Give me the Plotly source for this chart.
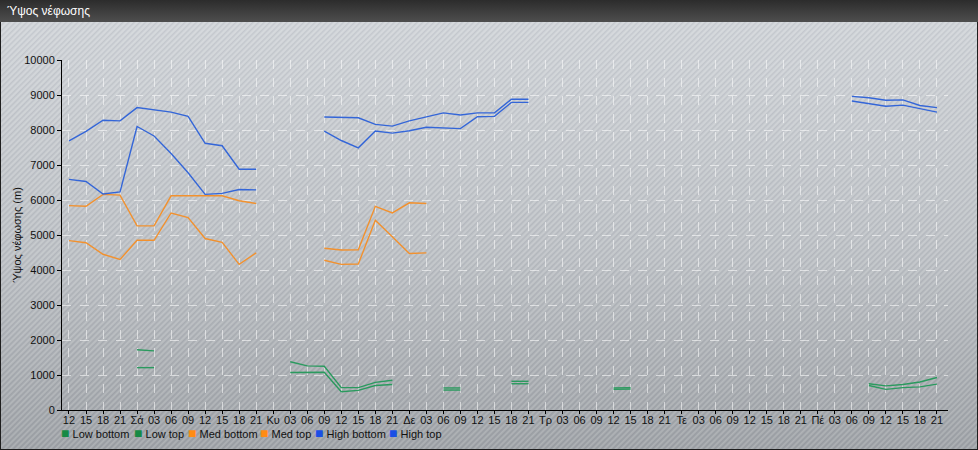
import base64
import plotly.graph_objects as go

# ---------------- data ----------------
tick_labels = ["12", "15", "18", "21",
               "Σά", "03", "06", "09", "12", "15", "18", "21",
               "Κυ", "03", "06", "09", "12", "15", "18", "21",
               "Δε", "03", "06", "09", "12", "15", "18", "21",
               "Τρ", "03", "06", "09", "12", "15", "18", "21",
               "Τε", "03", "06", "09", "12", "15", "18", "21",
               "Πέ", "03", "06", "09", "12", "15", "18", "21"]
x_idx = list(range(len(tick_labels)))

N = None
low_bottom = [N, N, N, N, 1210, 1210, N, N, N, N, N, N,
              N, 1070, 1080, 1080, 520, 560, 700, 730,
              N, N, 570, 570, N, N, 750, 750,
              N, N, N, N, 590, 600, N, N,
              N, N, N, N, N, N, N, N,
              N, N, N, 700, 590, 640, 660, 740]
low_top = [N, N, N, N, 1720, 1690, N, N, N, N, N, N,
           N, 1380, 1260, 1250, 640, 640, 790, 850,
           N, N, 630, 630, N, N, 820, 820,
           N, N, N, N, 630, 640, N, N,
           N, N, N, N, N, N, N, N,
           N, N, N, 750, 690, 730, 800, 930]
med_bottom = [4840, 4780, 4450, 4300, 4850, 4850, 5630, 5500, 4900, 4790, 4160, 4490,
              N, N, N, 4280, 4160, 4170, 5420, 4950,
              4470, 4490, N, N, N, N, N, N,
              N, N, N, N, N, N, N, N,
              N, N, N, N, N, N, N, N,
              N, N, N, N, N, N, N, N]
med_top = [5840, 5820, 6160, 6140, 5260, 5260, 6120, 6120, 6110, 6120, 5980, 5900,
           N, N, N, 4620, 4570, 4580, 5820, 5630,
           5920, 5900, N, N, N, N, N, N,
           N, N, N, N, N, N, N, N,
           N, N, N, N, N, N, N, N,
           N, N, N, N, N, N, N, N]
high_bottom = [6590, 6530, 6170, 6230, 8100, 7830, 7330, 6780, 6160, 6190, 6300, 6290,
               N, N, N, 7970, 7700, 7490, 7970, 7910,
               7980, 8080, 8060, 8040, 8380, 8390, 8790, 8790,
               N, N, N, N, N, N, N, N,
               N, N, N, N, N, N, N, N,
               N, N, 8830, 8750, 8680, 8710, 8600, 8510]
high_top = [7690, 7960, 8280, 8260, 8640, 8570, 8510, 8390, 7620, 7550, 6880, 6880,
            N, N, N, 8370, 8360, 8350, 8160, 8110,
            8260, 8370, 8490, 8430, 8490, 8490, 8880, 8880,
            N, N, N, N, N, N, N, N,
            N, N, N, N, N, N, N, N,
            N, N, 8960, 8920, 8850, 8860, 8700, 8640]

series_names = ["Low bottom", "Low top", "Med bottom", "Med top", "High bottom", "High top"]
series_values = [low_bottom, low_top, med_bottom, med_top, high_bottom, high_top]
line_colors = ["#2a9a5e", "#2a9a5e", "#f2912e", "#f2912e", "#3466d8", "#3466d8"]
legend_colors = ["#178a45", "#178a45", "#ff8c14", "#ff8c14", "#1a4fe6", "#1a4fe6"]
legend_px = [59, 132, 186, 258, 313, 387]   # left edge of each legend entry (px)

# ---------------- layout geometry ----------------
W, H = 978, 450
ML, MR, MT, MB = 62, 30, 60, 40
PW, PH = W - ML - MR, H - MT - MB

FONT = "Liberation Sans, Arial, sans-serif"

# background picture (title bar, gradient body, diagonal hatching)
svg = f'''<svg xmlns="http://www.w3.org/2000/svg" width="{W}" height="{H}" viewBox="0 0 {W} {H}">
<defs>
<linearGradient id="tb" x1="0" y1="0" x2="0" y2="1"><stop offset="0" stop-color="#2c2c2c"/><stop offset="1" stop-color="#4e4e4e"/></linearGradient>
<linearGradient id="bg" x1="0" y1="0" x2="0" y2="1"><stop offset="0" stop-color="#d0d4d8"/><stop offset="0.55" stop-color="#bcc0c4"/><stop offset="1" stop-color="#9ea2a6"/></linearGradient>
<pattern id="h" width="4" height="4" patternUnits="userSpaceOnUse" patternTransform="rotate(45)"><rect width="1.6" height="4" fill="rgba(255,255,255,0.16)"/><rect x="2" width="1.2" height="4" fill="rgba(60,70,90,0.08)"/></pattern>
</defs>
<rect width="{W}" height="{H}" fill="#1e1e1e"/>
<rect x="0" y="0" width="{W}" height="22" fill="url(#tb)"/>
<rect x="1" y="22" width="{W-2}" height="{H-23}" fill="url(#bg)"/>
<rect x="1" y="22" width="{W-2}" height="{H-23}" fill="url(#h)"/>
</svg>'''
bg_uri = "data:image/svg+xml;base64," + base64.b64encode(svg.encode("utf-8")).decode("ascii")

fig = go.Figure()

for name, vals, lc in zip(series_names, series_values, line_colors):
    fig.add_trace(go.Scatter(
        x=x_idx, y=vals, mode="lines", name=name,
        line=dict(color=lc, width=1.4), connectgaps=False,
        showlegend=False))

annotations = [dict(text="Ύψος νέφωσης", xref="paper", yref="paper",
                    x=(5 - ML) / PW, y=1 + (MT - 11) / PH,
                    xanchor="left", yanchor="middle", showarrow=False,
                    font=dict(family=FONT, size=12, color="#ffffff"))]
# compact legend (square + label), like the original
for name, c, px in zip(series_names, legend_colors, legend_px):
    annotations.append(dict(
        text=f'<span style="color:{c};font-size:14px">■</span> {name}',
        xref="paper", yref="paper", x=(px - ML) / PW, y=-(433 - (H - MB)) / PH,
        xanchor="left", yanchor="middle", showarrow=False,
        font=dict(family=FONT, size=11, color="#111111")))

fig.update_layout(
    width=W, height=H,
    margin=dict(l=ML, r=MR, t=MT, b=MB, pad=0, autoexpand=False),
    paper_bgcolor="#b8bcc0",
    plot_bgcolor="rgba(255,255,255,0.07)",
    font=dict(family=FONT, size=11, color="#111111"),
    images=[dict(source=bg_uri, xref="paper", yref="paper",
                 x=-ML / PW, y=1 + MT / PH, sizex=W / PW, sizey=H / PH,
                 xanchor="left", yanchor="top", sizing="stretch", layer="below")],
    annotations=annotations,
    showlegend=False,
)

fig.update_xaxes(
    range=[-0.41, 51.65], tickmode="array", tickvals=x_idx, ticktext=tick_labels,
    showline=True, linecolor="#000000", linewidth=1,
    ticks="outside", ticklen=3, tickcolor="#000000", ticklabelstandoff=-3,
    showgrid=True, gridcolor="rgba(255,255,255,0.55)", griddash="dash", gridwidth=1,
    zeroline=False, tickangle=0, automargin=False,
    tickfont=dict(size=11, color="#111111"), fixedrange=True)
fig.update_yaxes(
    range=[0, 10000], tickmode="linear", tick0=0, dtick=1000, tickformat="d",
    showline=True, linecolor="#000000", linewidth=1,
    ticks="outside", ticklen=4, tickcolor="#000000",
    showgrid=True, gridcolor="rgba(255,255,255,0.55)", griddash="dash", gridwidth=1,
    zeroline=False, automargin=False, tickfont=dict(size=11, color="#111111"),
    title=dict(text="Ύψος νέφωσης (m)", font=dict(size=11, color="#111111"), standoff=0),
    fixedrange=True)

fig.write_html("out.html", include_plotlyjs=True, config={"displayModeBar": False},
               post_script="document.body.style.margin='0';document.body.style.padding='0';")
